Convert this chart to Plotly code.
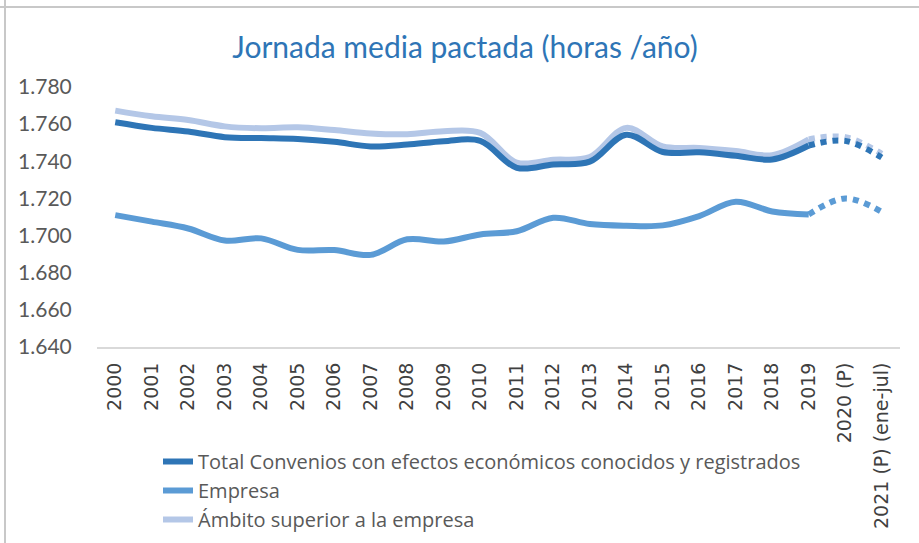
import plotly.graph_objects as go

categories = ["2000", "2001", "2002", "2003", "2004", "2005", "2006", "2007", "2008", "2009",
              "2010", "2011", "2012", "2013", "2014", "2015", "2016", "2017", "2018", "2019",
              "2020 (P)", "2021 (P) (ene-jul)"]

total = [1761, 1758, 1756, 1753, 1752.5, 1752, 1750.5, 1748, 1749, 1750.8,
         1751, 1736.5, 1738.3, 1739.8, 1754.3, 1745, 1744.8, 1743, 1741, 1748.5,
         1751, 1742]
empresa = [1711, 1707.5, 1703.8, 1697.3, 1698.5, 1692.3, 1692.2, 1689.6, 1698, 1696.8,
           1700.6, 1702.3, 1709.6, 1706.2, 1705.3, 1705.5, 1710.5, 1718.2, 1713, 1711.4,
           1720, 1712.8]
ambito = [1767.3, 1764.2, 1762.2, 1758.8, 1757.8, 1758.3, 1756.8, 1755, 1754.6, 1756.2,
          1755.3, 1739.3, 1740.8, 1742.3, 1758, 1748, 1747.2, 1745.5, 1743.3, 1751.8,
          1753, 1744]

n_actual = 20  # 2000..2019 solid, then provisional dotted

names = ["Total Convenios con efectos económicos conocidos y registrados",
         "Empresa",
         "Ámbito superior a la empresa"]
colors = ["#2E75B6", "#5B9BD5", "#B4C7E7"]
series = [total, empresa, ambito]

fig = go.Figure()

draw_order = [2, 1, 0]
for i in draw_order:
    vals = series[i]
    fig.add_trace(go.Scatter(
        x=categories[:n_actual], y=vals[:n_actual], mode="lines",
        name=names[i], legendrank=i + 1,
        line=dict(color=colors[i], width=6, shape="spline", smoothing=1.0),
        hoverinfo="skip"))
    fig.add_trace(go.Scatter(
        x=categories[n_actual - 1:], y=vals[n_actual - 1:], mode="lines",
        name=names[i], showlegend=False,
        line=dict(color=colors[i], width=6, shape="spline", smoothing=1.0, dash="dot"),
        hoverinfo="skip"))

PL, PR, PT, PB = 97, 900, 87, 347
PW, PH = PR - PL, PB - PT

fig.update_layout(
    width=919, height=543,
    margin=dict(l=PL, r=919 - PR, t=PT, b=543 - PB, autoexpand=False),
    paper_bgcolor="white", plot_bgcolor="white",
    separators=",.",
    title=dict(text="Jornada media pactada (horas /año)",
               font=dict(family="Lato", size=30, color="#2E75B6"),
               x=465 / 919, xanchor="center", y=1 - 47 / 543, yanchor="middle"),
    showlegend=True,
    legend=dict(orientation="v", x=(158 - PL) / PW, xanchor="left",
                y=-(442 - PB) / PH, yanchor="top",
                font=dict(family="Open Sans", size=20, color="#595959"),
                tracegroupgap=0, itemwidth=30, bgcolor="rgba(0,0,0,0)"),
    font=dict(family="Lato", color="#595959"),
)

fig.update_xaxes(
    type="category", categoryorder="array", categoryarray=categories,
    tickangle=-90, tickfont=dict(family="DejaVu Sans", size=19, color="#404040"),
    showline=True, linecolor="#D9D9D9", linewidth=2, showgrid=False,
    ticks="outside", ticklen=6, tickcolor="rgba(0,0,0,0)",
    range=[-0.5, len(categories) - 0.5], fixedrange=True)

fig.update_yaxes(
    range=[1640, 1780], dtick=20, tickformat=",d",
    tickfont=dict(family="Lato", size=21, color="#595959"),
    showline=False, showgrid=False, zeroline=False,
    ticks="outside", ticklen=20, tickcolor="rgba(0,0,0,0)", fixedrange=True)

# outer frame lines (partial border of the embedded chart)
fig.add_shape(type="line", xref="paper", yref="paper",
              x0=-PL / PW, x1=(919 - PL) / PW, y0=1 + (PT - 7) / PH, y1=1 + (PT - 7) / PH,
              line=dict(color="#C8C8C8", width=2))
fig.add_shape(type="line", xref="paper", yref="paper",
              x0=-(PL - 5) / PW, x1=-(PL - 5) / PW, y0=-(543 - PB) / PH, y1=1 + PT / PH,
              line=dict(color="#C8C8C8", width=2))

fig.write_html("out.html", config={"displayModeBar": False},
               post_script="document.body.style.margin='0';document.body.style.overflow='hidden';")
